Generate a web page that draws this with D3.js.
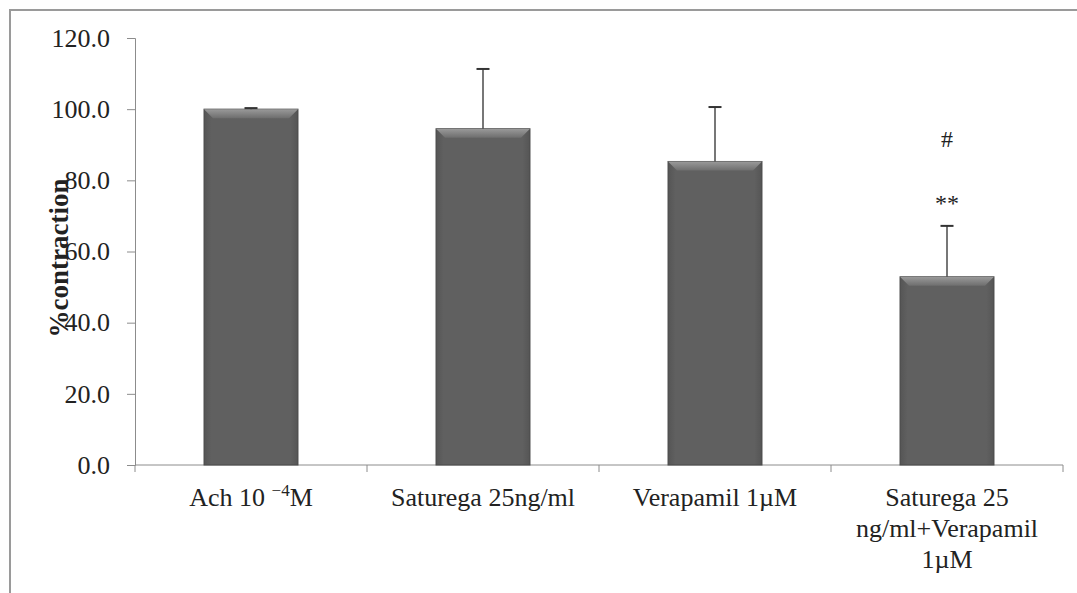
<!DOCTYPE html>
<html>
<head>
<meta charset="utf-8">
<script src="https://cdn.jsdelivr.net/npm/d3@7"></script>
<style>
  html, body { margin: 0; padding: 0; background: #fff; }
  svg { display: block; }
  text { font-family: "Liberation Serif", "Times New Roman", serif; fill: #222; }
</style>
</head>
<body>
<svg id="chart" width="1077" height="593"></svg>
<script>
// Contraction data (% of acetylcholine response), mean and upper SEM
const categories = ["Ach 10 -4M", "Saturega 25ng/ml", "Verapamil 1µM", "Saturega 25 ng/ml+Verapamil 1µM"];
const labelLines = [
  ["Ach 10 ", "\u22124", "M"],
  ["Saturega 25ng/ml"],
  ["Verapamil 1\u00b5M"],
  ["Saturega 25", "ng/ml+Verapamil", "1\u00b5M"]
];
const means = [100.0, 94.5, 85.3, 52.9];
const errors = [0.3, 16.8, 15.3, 14.3];
const markers = [[], [], [], ["**", "#"]];
const markerValues = [[], [], [], [73, 91]];
const yTicks = [0, 20, 40, 60, 80, 100, 120];

const svg = d3.select("#chart");
const W = 1077, H = 593;
const plot = { left: 135, right: 1063, top: 38, bottom: 465 };
const FS = 26;

// Outer frame (left and top edges)
svg.append("path")
  .attr("d", `M10,${H} L10,10 L${W},10`)
  .attr("fill", "none").attr("stroke", "#9a9a9a").attr("stroke-width", 2);

const x = d3.scaleBand().domain(categories).range([plot.left, plot.right]).paddingInner(0.595).paddingOuter(0.2975);
const xb = d3.scaleBand().domain(categories).range([plot.left, plot.right]).padding(0);
const y = d3.scaleLinear().domain([0, 120]).range([plot.bottom, plot.top]);

// Y axis
const yAxis = svg.append("g").attr("transform", `translate(${plot.left},0)`)
  .call(d3.axisLeft(y).tickValues(yTicks).tickFormat(d3.format(".1f")).tickSize(8).tickPadding(17));
yAxis.select(".domain").attr("stroke", "#8c8c8c");
yAxis.selectAll(".tick line").attr("stroke", "#8c8c8c");
yAxis.selectAll(".tick text").attr("font-size", FS).attr("font-family", "Liberation Serif, serif").attr("fill", "#222");

// X axis baseline with category separators
svg.append("line").attr("x1", plot.left).attr("x2", plot.right)
  .attr("y1", plot.bottom).attr("y2", plot.bottom).attr("stroke", "#8c8c8c");
const sepX = categories.map(c => xb(c)).concat([plot.right]);
svg.selectAll(".sep").data(sepX).enter().append("line")
  .attr("x1", d => d).attr("x2", d => d)
  .attr("y1", plot.bottom).attr("y2", plot.bottom + 7)
  .attr("stroke", "#8c8c8c");

// Gradients for the bevelled bars
const defs = svg.append("defs");
const gTop = defs.append("linearGradient").attr("id", "bevelTop").attr("x1", 0).attr("y1", 0).attr("x2", 0).attr("y2", 1);
gTop.append("stop").attr("offset", "0%").attr("stop-color", "#9a9a9a");
gTop.append("stop").attr("offset", "100%").attr("stop-color", "#6e6e6e");
const gBody = defs.append("linearGradient").attr("id", "body").attr("x1", 0).attr("y1", 0).attr("x2", 1).attr("y2", 0);
gBody.append("stop").attr("offset", "0%").attr("stop-color", "#555");
gBody.append("stop").attr("offset", "8%").attr("stop-color", "#606060");
gBody.append("stop").attr("offset", "92%").attr("stop-color", "#606060");
gBody.append("stop").attr("offset", "100%").attr("stop-color", "#555");

const data = categories.map((c, i) => ({ c, m: means[i], e: errors[i], i }));
const bars = svg.selectAll(".bar").data(data).enter().append("g");
const bev = 9;
bars.append("rect")
  .attr("x", d => x(d.c)).attr("y", d => y(d.m))
  .attr("width", x.bandwidth()).attr("height", d => y(0) - y(d.m))
  .attr("fill", "url(#body)").attr("stroke", "#4a4a4a").attr("stroke-width", 1);
bars.append("path")
  .attr("d", d => {
    const x0 = x(d.c), x1 = x0 + x.bandwidth(), t = y(d.m);
    return `M${x0},${t} L${x1},${t} L${x1 - bev},${t + bev} L${x0 + bev},${t + bev} Z`;
  })
  .attr("fill", "url(#bevelTop)");

// Upper error bars
const cx = d => x(d.c) + x.bandwidth() / 2;
bars.append("line")
  .attr("x1", cx).attr("x2", cx)
  .attr("y1", d => y(d.m)).attr("y2", d => y(d.m + d.e))
  .attr("stroke", "#4a4a4a").attr("stroke-width", 1.5);
bars.append("line")
  .attr("x1", d => cx(d) - 6.5).attr("x2", d => cx(d) + 6.5)
  .attr("y1", d => y(d.m + d.e)).attr("y2", d => y(d.m + d.e))
  .attr("stroke", "#333").attr("stroke-width", 2);

// Significance markers
data.forEach(d => {
  markers[d.i].forEach((mk, k) => {
    svg.append("text")
      .attr("x", cx(d)).attr("y", y(markerValues[d.i][k]))
      .attr("text-anchor", "middle").attr("font-size", 24)
      .attr("dominant-baseline", "middle")
      .attr("fill", "#333")
      .text(mk);
  });
});

// Category labels
data.forEach(d => {
  const lines = labelLines[d.i];
  const g = svg.append("text").attr("x", cx(d)).attr("y", 506)
    .attr("text-anchor", "middle").attr("font-size", FS);
  if (d.i === 0) {
    g.append("tspan").text(lines[0]);
    g.append("tspan").attr("font-size", 17).attr("dy", -10).text(lines[1]);
    g.append("tspan").attr("dy", 10).text(lines[2]);
  } else {
    lines.forEach((ln, k) => {
      g.append("tspan").attr("x", cx(d)).attr("dy", k === 0 ? 0 : 31).text(ln);
    });
  }
});

// Y axis title
svg.append("text")
  .attr("transform", `translate(68,258) rotate(-90)`)
  .attr("text-anchor", "middle").attr("font-size", 27).attr("font-weight", "bold")
  .text("%contraction");
</script>
</body>
</html>
